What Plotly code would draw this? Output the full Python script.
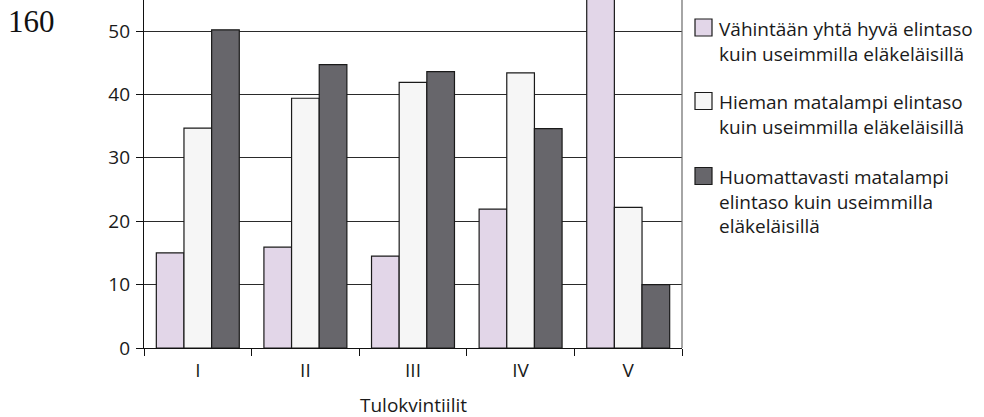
import plotly.graph_objects as go

# Income quintiles and the share (%) of each self-assessed living standard
quintiles = ["I", "II", "III", "IV", "V"]
series_names = [
    "Vähintään yhtä hyvä elintaso<br>kuin useimmilla eläkeläisillä",
    "Hieman matalampi elintaso<br>kuin useimmilla eläkeläisillä",
    "Huomattavasti matalampi<br>elintaso kuin useimmilla<br>eläkeläisillä",
]
at_least_as_good = [15.0, 15.9, 14.5, 21.9, 67.8]
somewhat_lower = [34.7, 39.4, 41.9, 43.4, 22.2]
considerably_lower = [50.2, 44.7, 43.6, 34.6, 10.0]
y_ticks = [0, 10, 20, 30, 40, 50]
page_number = "160"
x_title = "Tulokvintiilit"

colors = ["#E2D6E8", "#F6F6F6", "#67666B"]
values = [at_least_as_good, somewhat_lower, considerably_lower]

W, H = 984, 417
L, R, T, B = 144, 302, 0, 69
plot_w = W - L - R
plot_h = H - T - B

FONT = "Open Sans"
FS = 19

fig = go.Figure()
for name, vals, col in zip(series_names, values, colors):
    fig.add_trace(go.Bar(
        x=quintiles, y=vals, name=name,
        marker=dict(color=col, line=dict(color="#1a1a1a", width=1.2)),
        showlegend=False,
    ))


def px_x(px):
    return (px - L) / plot_w


def px_y(py):
    return 1 - (py - T) / plot_h


shapes = []
annotations = []

# Right frame edge of the plotting area
shapes.append(dict(type="line", xref="paper", yref="paper", x0=1, x1=1, y0=0, y1=1,
                   line=dict(color="#6a6a6a", width=1.2)))

# Legend drawn beside the plot: swatch + wrapped label per series
legend_centers = [27.5, 101, 176]
for name, col, cy in zip(series_names, colors, legend_centers):
    shapes.append(dict(type="rect", xref="paper", yref="paper",
                       x0=px_x(695), x1=px_x(712),
                       y0=px_y(cy + 8.5), y1=px_y(cy - 8.5),
                       fillcolor=col, line=dict(color="#1a1a1a", width=1.2)))
    annotations.append(dict(xref="paper", yref="paper", x=px_x(717), y=px_y(cy - 14),
                            xanchor="left", yanchor="top", align="left", showarrow=False,
                            text=name, font=dict(family=FONT, size=FS, color="#1a1a1a")))

# Page number in the top-left corner
annotations.append(dict(xref="paper", yref="paper", x=px_x(6), y=px_y(2),
                        xanchor="left", yanchor="top", showarrow=False,
                        text=page_number,
                        font=dict(family="Liberation Serif", size=31, color="#111")))

# Axis title under the category labels
annotations.append(dict(xref="paper", yref="paper", x=0.5, y=px_y(405),
                        xanchor="center", yanchor="middle", showarrow=False,
                        text=x_title, font=dict(family=FONT, size=FS, color="#1a1a1a")))

fig.update_layout(
    width=W, height=H,
    margin=dict(l=L, r=R, t=T, b=B, autoexpand=False),
    paper_bgcolor="white", plot_bgcolor="white",
    barmode="group", bargap=0.229, bargroupgap=0,
    font=dict(family=FONT, size=FS, color="#1a1a1a"),
    shapes=shapes, annotations=annotations,
    xaxis=dict(
        showline=True, linecolor="#111", linewidth=1.3,
        ticks="outside", ticklen=7, tickcolor="#111", tickwidth=1.3,
        tickson="boundaries", showgrid=False, ticklabelstandoff=5,
        tickfont=dict(family=FONT, size=FS, color="#1a1a1a"),
    ),
    yaxis=dict(
        range=[0, 54.9], tickvals=y_ticks,
        showline=True, linecolor="#111", linewidth=1.3,
        ticks="outside", ticklen=7, tickcolor="#111", tickwidth=1.3,
        showgrid=True, gridcolor="#2a2a2a", gridwidth=1,
        zeroline=False, ticklabelstandoff=2,
        tickfont=dict(family=FONT, size=FS, color="#1a1a1a"),
    ),
)

fig.write_html("out.html")
